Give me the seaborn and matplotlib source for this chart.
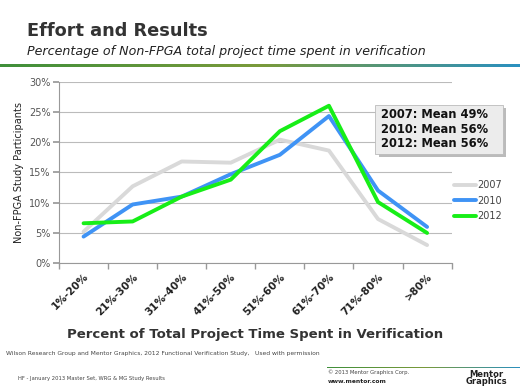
import numpy as np
import pandas as pd
import matplotlib.pyplot as plt
import seaborn as sns
from matplotlib.colors import LinearSegmentedColormap
from matplotlib.patches import FancyBboxPatch

categories = ['1%-20%', '21%-30%', '31%-40%', '41%-50%', '51%-60%', '61%-70%', '71%-80%', '>80%']
v2007 = [5.2, 12.7, 16.8, 16.6, 20.4, 18.6, 7.3, 3.0]
v2010 = [4.4, 9.7, 11.0, 14.7, 17.9, 24.3, 12.0, 6.0]
v2012 = [6.6, 6.9, 11.0, 13.8, 21.8, 26.0, 10.1, 5.0]
years = ['2007', '2010', '2012']
means = ['2007: Mean 49%', '2010: Mean 56%', '2012: Mean 56%']

GRAY = '#d9d9d9'
BLUE = '#3f93f5'
GREEN = '#17ee17'

sns.set_theme(style='white')
plt.rcParams['font.family'] = ['Verdana', 'DejaVu Sans']

df = pd.DataFrame({
    'cat': categories * 3,
    'pos': list(range(len(categories))) * 3,
    'val': v2007 + v2010 + v2012,
    'year': [y for y in years for _ in categories],
})

fig = plt.figure(figsize=(5.2, 3.9), dpi=100)
fig.patch.set_facecolor('white')

# header
fig.text(0.052, 0.908, 'Effort and Results', fontsize=12.8, fontweight='bold', color='#333333')
fig.text(0.052, 0.86, 'Percentage of Non-FPGA total project time spent in verification',
         fontsize=9.1, style='italic', color='#222222')
grad = np.linspace(0, 1, 256).reshape(1, -1)
cmap = LinearSegmentedColormap.from_list('hdr', ['#3f8f3a', '#7a9a3a', '#2a90c0'])
gax = fig.add_axes([0, 0.829, 1, 0.006])
gax.imshow(grad, aspect='auto', cmap=cmap)
gax.axis('off')

ax = fig.add_axes([0.1135, 0.325, 0.755, 0.466])
sns.lineplot(data=df, x='pos', y='val', hue='year', palette=[GRAY, BLUE, GREEN],
             linewidth=2.8, ax=ax, legend=False)

ax.set_xlim(-0.5, len(categories) - 0.5)
ax.set_ylim(0, 30)
ax.set_yticks(range(0, 31, 5))
ax.set_yticklabels([f'{t}%' for t in range(0, 31, 5)], fontsize=7, color='#555555')
ax.set_xticks(np.arange(len(categories)))
ax.set_xticklabels(categories, rotation=45, ha='right', rotation_mode='anchor',
                   fontsize=7.5, fontweight='bold', color='#222222')
ax.set_xticks(np.arange(len(categories) + 1) - 0.5, minor=True)
ax.tick_params(axis='x', which='major', length=0, pad=6)
ax.tick_params(axis='x', which='minor', length=4, color='#999999', bottom=True)
ax.tick_params(axis='y', length=4, color='#999999', left=True, pad=2)
ax.grid(axis='y', color='#bbbbbb', linewidth=0.8)
for s in ['top', 'right']:
    ax.spines[s].set_visible(False)
for s in ['left', 'bottom']:
    ax.spines[s].set_color('#999999')
    ax.spines[s].set_linewidth(0.8)
ax.set_xlabel('Percent of Total Project Time Spent in Verification', fontsize=9.5,
              fontweight='bold', color='#333333', labelpad=8)
ax.set_ylabel('Non-FPGA Study Participants', fontsize=7, color='#222222', labelpad=4)

# legend outside right
handles = [plt.Line2D([], [], color=c, linewidth=2.8) for c in [GRAY, BLUE, GREEN]]
leg = fig.legend(handles, years, loc='upper left', bbox_to_anchor=(0.857, 0.56),
                 frameon=False, fontsize=7, handlelength=2.2, labelspacing=0.55,
                 handletextpad=0.1)
for t in leg.get_texts():
    t.set_color('#444444')

# mean box
fig.patches.append(FancyBboxPatch((0.728, 0.598), 0.245, 0.125, boxstyle='square,pad=0',
                                  transform=fig.transFigure, facecolor='#bbbbbb',
                                  edgecolor='none', zorder=2))
fig.patches.append(FancyBboxPatch((0.722, 0.606), 0.245, 0.125, boxstyle='square,pad=0',
                                  transform=fig.transFigure, facecolor='#ececec',
                                  edgecolor='#bbbbbb', linewidth=0.6, zorder=3))
fig.text(0.733, 0.668, '\n'.join(means), fontsize=8.3, fontweight='bold', color='#111111',
         va='center', linespacing=1.15, zorder=4)

# footer
fig.text(0.012, 0.09, 'Wilson Research Group and Mentor Graphics, 2012 Functional Verification Study,   Used with permission',
         fontsize=4.3, color='#444444')
fig.text(0.035, 0.025, 'HF - January 2013 Master Set, WRG & MG Study Results', fontsize=3.8, color='#444444')
fig.text(0.63, 0.042, '\u00a9 2013 Mentor Graphics Corp.', fontsize=3.8, color='#444444')
fig.text(0.63, 0.017, 'www.mentor.com', fontsize=4.3, fontweight='bold', color='#222222')
fig.text(0.935, 0.015, 'Mentor\nGraphics', fontsize=6, fontweight='bold', color='#222222',
         linespacing=0.75, ha='center')
fax = fig.add_axes([0.628, 0.056, 0.372, 0.004])
fax.imshow(grad, aspect='auto', cmap=cmap)
fax.axis('off')

fig.savefig('out.png', dpi=100)
